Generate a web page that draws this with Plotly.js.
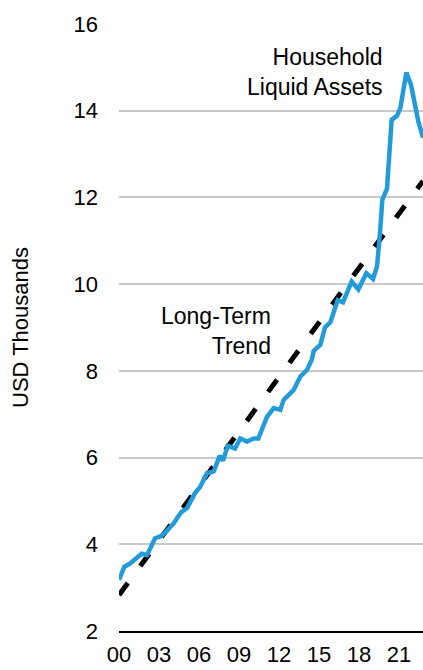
<!DOCTYPE html>
<html>
<head>
<meta charset="utf-8">
<script src="https://cdn.plot.ly/plotly-3.0.1.min.js"></script>
<style>html,body{margin:0;padding:0;background:#fff;}#chart{width:423px;height:670px;}</style>
</head>
<body>
<div id="chart"></div>
<script>
// Household liquid assets (USD thousands)
const assetYears = [2000.0, 2000.4, 2000.8, 2001.3, 2001.7, 2002.1, 2002.35, 2002.7, 2003.1, 2003.3,
  2003.7, 2004.1, 2004.35, 2004.7, 2005.1, 2005.45, 2005.7, 2006.1, 2006.35, 2006.6,
  2007.1, 2007.3, 2007.55, 2007.8, 2008.15, 2008.7, 2009.1, 2009.6, 2010.1, 2010.45,
  2011.1, 2011.6, 2012.1, 2012.35, 2013.1, 2013.6, 2014.1, 2014.45, 2014.6, 2015.1,
  2015.45, 2015.85, 2016.4, 2016.8, 2017.45, 2017.95, 2018.55, 2019.05, 2019.35, 2019.58,
  2019.75, 2020.1, 2020.45, 2020.85, 2021.1, 2021.55, 2021.9, 2022.45, 2022.8];
const assetValues = [3.18, 3.48, 3.55, 3.68, 3.78, 3.75, 3.9, 4.14, 4.18, 4.22,
  4.35, 4.48, 4.6, 4.75, 4.83, 5.02, 5.18, 5.33, 5.48, 5.64,
  5.68, 5.87, 6.04, 5.93, 6.27, 6.21, 6.44, 6.37, 6.44, 6.44,
  6.94, 7.14, 7.10, 7.33, 7.56, 7.87, 8.02, 8.25, 8.46, 8.6,
  9.0, 9.12, 9.63, 9.58, 10.06, 9.88, 10.25, 10.12, 10.4, 11.2,
  11.95, 12.2, 13.79, 13.88, 14.06, 14.88, 14.6, 13.75, 13.38];
// Long-term trend
const trendYears = [2000.0, 2022.8];
const trendValues = [2.83, 12.38];
// Axis ticks
const xTickVals = [2000, 2003, 2006, 2009, 2012, 2015, 2018, 2021];
const xTickText = ['00', '03', '06', '09', '12', '15', '18', '21'];
const yTickVals = [2, 4, 6, 8, 10, 12, 14, 16];

const FONT = 'Arial, "Liberation Sans", sans-serif';

const traces = [
  {x: trendYears, y: trendValues, type: 'scatter', mode: 'lines',
   line: {color: '#000000', width: 5, dash: '15px,21px'}, hoverinfo: 'skip'},
  {x: assetYears, y: assetValues, type: 'scatter', mode: 'lines',
   line: {color: '#229bd8', width: 4.5}, hoverinfo: 'skip'}
];

const layout = {
  width: 423, height: 670,
  margin: {l: 119, r: 0, t: 24, b: 39, pad: 0},
  paper_bgcolor: '#ffffff', plot_bgcolor: '#ffffff',
  showlegend: false,
  font: {family: FONT, color: '#000000'},
  xaxis: {
    range: [2000, 2022.8], tickvals: xTickVals, ticktext: xTickText,
    showgrid: false, zeroline: false, showline: true, linecolor: '#000000', linewidth: 2,
    ticks: '', ticklabelstandoff: 3, tickfont: {family: FONT, size: 22, color: '#000000'}, fixedrange: true
  },
  yaxis: {
    range: [2, 16], tickvals: yTickVals, showgrid: true, gridcolor: '#c8c8c8', gridwidth: 2,
    zeroline: false, showline: false, ticks: '', ticklabelstandoff: 20,
    tickfont: {family: FONT, size: 22, color: '#000000'},
    title: {text: 'USD Thousands', font: {family: FONT, size: 22, color: '#000000'}, standoff: 38},
    fixedrange: true
  },
  annotations: [
    {x: 2019.95, y: 14.9, xref: 'x', yref: 'y', text: 'Household<br>Liquid Assets',
     showarrow: false, xanchor: 'right', yanchor: 'middle', align: 'right',
     font: {family: FONT, size: 23, color: '#000000'}},
    {x: 2011.55, y: 8.92, xref: 'x', yref: 'y', text: 'Long-Term<br>Trend',
     showarrow: false, xanchor: 'right', yanchor: 'middle', align: 'right',
     font: {family: FONT, size: 23, color: '#000000'}}
  ]
};

Plotly.newPlot('chart', traces, layout, {staticPlot: true, displayModeBar: false});
</script>
</body>
</html>
